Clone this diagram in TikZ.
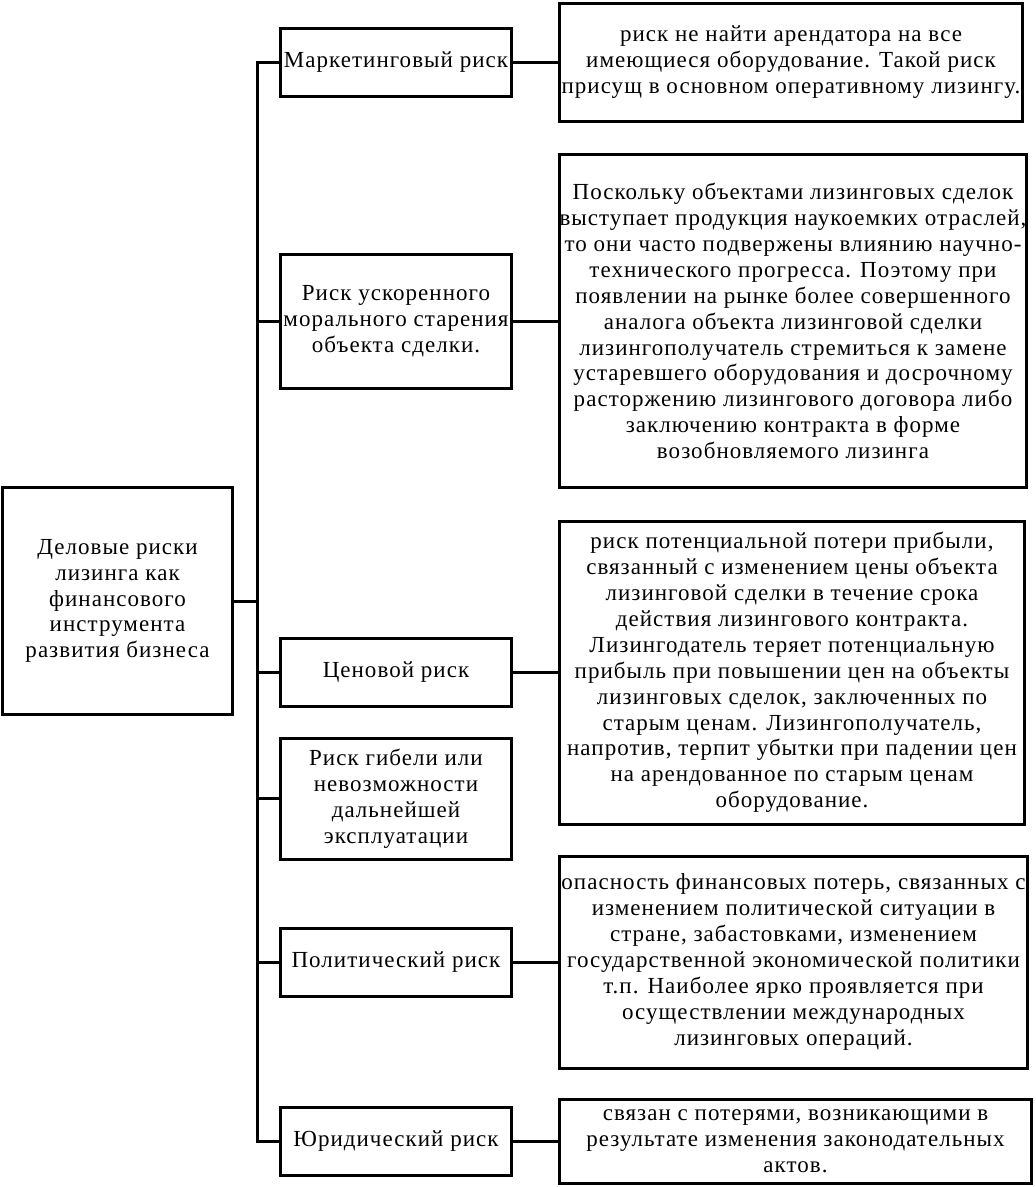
\documentclass[tikz,border=0pt]{standalone}
\usepackage{fontspec}
\setmainfont{Liberation Serif}[LetterSpace=4.5]
\tikzset{
    risk-box/.style = {draw=black, line width=3pt, rectangle, align=center, inner sep=0pt, font=\fontsize{23}{25.9}\selectfont},
    kind-box/.style = {risk-box, minimum width=231pt, minimum height=68pt},
    note-box/.style = {risk-box},
    link/.style = {draw=black, line width=3pt},
}

\begin{document}
\begin{tikzpicture}[x=1pt, y=-1pt]
\useasboundingbox (0,0) rectangle (1036,1187);
% main box
\node[risk-box, minimum width=230pt, minimum height=227pt] (main) at (117.5,601) {Деловые риски\\лизинга как\\финансового\\инструмента\\развития бизнеса};
% kinds of risk
\node[kind-box] (market) at (396,62) {Маркетинговый риск};
\node[kind-box, minimum height=134pt] (moral) at (396,321) {Риск ускоренного\\морального старения\\объекта сделки.};
\node[kind-box] (price) at (396,672.5) {Ценовой риск};
\node[kind-box, minimum height=121pt] (loss) at (396,798.5) {Риск гибели или\\невозможности\\дальнейшей\\эксплуатации};
\node[kind-box] (polit) at (396,962) {Политический риск};
\node[kind-box] (legal) at (396,1141.5) {Юридический риск};
% notes
\node[note-box, minimum width=463pt, minimum height=118pt] (market-note) at (791,62) {риск не найти арендатора на все\\имеющиеся оборудование. Такой риск\\присущ в основном оперативному лизингу.};
\node[note-box, minimum width=467pt, minimum height=333pt] (moral-note) at (793,321) {Поскольку объектами лизинговых сделок\\выступает продукция наукоемких отраслей,\\то они часто подвержены влиянию научно-\\технического прогресса. Поэтому при\\появлении на рынке более совершенного\\аналога объекта лизинговой сделки\\лизингополучатель стремиться к замене\\устаревшего оборудования и досрочному\\расторжению лизингового договора либо\\заключению контракта в форме\\возобновляемого лизинга};
\node[note-box, minimum width=465pt, minimum height=303pt] (price-note) at (792,672.5) {риск потенциальной потери прибыли,\\связанный с изменением цены объекта\\лизинговой сделки в течение срока\\действия лизингового контракта.\\Лизингодатель теряет потенциальную\\прибыль при повышении цен на объекты\\лизинговых сделок, заключенных по\\старым ценам. Лизингополучатель,\\напротив, терпит убытки при падении цен\\на арендованное по старым ценам\\оборудование.};
\node[note-box, minimum width=468pt, minimum height=212pt] (polit-note) at (793.5,962) {опасность финансовых потерь, связанных с\\изменением политической ситуации в\\стране, забастовками, изменением\\государственной экономической политики\\т.п. Наиболее ярко проявляется при\\осуществлении международных\\лизинговых операций.};
\node[note-box, minimum width=472pt, minimum height=84pt] (legal-note) at (795.5,1141.5) {связан с потерями, возникающими в\\результате изменения законодательных\\актов.};
% trunk
\coordinate (trunk) at (257,0);
\draw[link] (market.west) -| (trunk |- legal.west) -- (legal.west);
\draw[link] (main.east) -- (main.east -| trunk);
\draw[link] (moral.west) -- (moral.west -| trunk);
\draw[link] (price.west) -- (price.west -| trunk);
\draw[link] (loss.west) -- (loss.west -| trunk);
\draw[link] (polit.west) -- (polit.west -| trunk);
% kinds to notes
\draw[link] (market.east) -- (market-note.west);
\draw[link] (moral.east) -- (moral-note.west);
\draw[link] (price.east) -- (price-note.west);
\draw[link] (polit.east) -- (polit-note.west);
\draw[link] (legal.east) -- (legal-note.west);
\end{tikzpicture}
\end{document}
